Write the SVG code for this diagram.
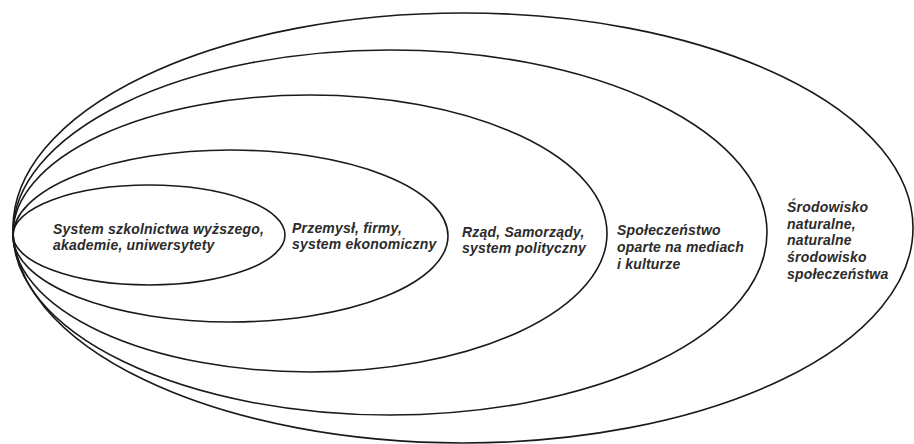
<svg xmlns="http://www.w3.org/2000/svg" width="914" height="444" viewBox="0 0 914 444">
<style>
.ring{fill:none;stroke:#1a1a1a;stroke-width:1.6}
.lbl{font-family:"Liberation Sans",Arial,sans-serif;font-size:14px;font-weight:bold;font-style:italic;fill:#2b2b2b;letter-spacing:0.2px}
</style>
<rect width="914" height="444" fill="#ffffff"/>
<g id="ring5"><ellipse class="ring" cx="463" cy="228" rx="450" ry="215"/>
<text class="lbl" x="787" y="211.5">Środowisko</text>
<text class="lbl" x="787" y="228.5">naturalne,</text>
<text class="lbl" x="787" y="245">naturalne</text>
<text class="lbl" x="787" y="262">środowisko</text>
<text class="lbl" x="787" y="279">społeczeństwa</text></g>
<g id="ring4"><ellipse class="ring" cx="390" cy="232.5" rx="377" ry="182.5"/>
<text class="lbl" x="617" y="235">Społeczeństwo</text>
<text class="lbl" x="617" y="252">oparte na mediach</text>
<text class="lbl" x="617" y="269">i kulturze</text></g>
<g id="ring3"><ellipse class="ring" cx="310" cy="233.5" rx="297" ry="138.5"/>
<text class="lbl" x="462" y="237">Rząd, Samorządy,</text>
<text class="lbl" x="462" y="253">system polityczny</text></g>
<g id="ring2"><ellipse class="ring" cx="230.5" cy="236" rx="217.5" ry="86"/>
<text class="lbl" x="292" y="233">Przemysł, firmy,</text>
<text class="lbl" x="292" y="249">system ekonomiczny</text></g>
<g id="ring1"><ellipse class="ring" cx="149" cy="235" rx="136" ry="50"/>
<text class="lbl" x="53" y="234">System szkolnictwa wyższego,</text>
<text class="lbl" x="53" y="250">akademie, uniwersytety</text></g>
<g id="connectors"/>
</svg>
